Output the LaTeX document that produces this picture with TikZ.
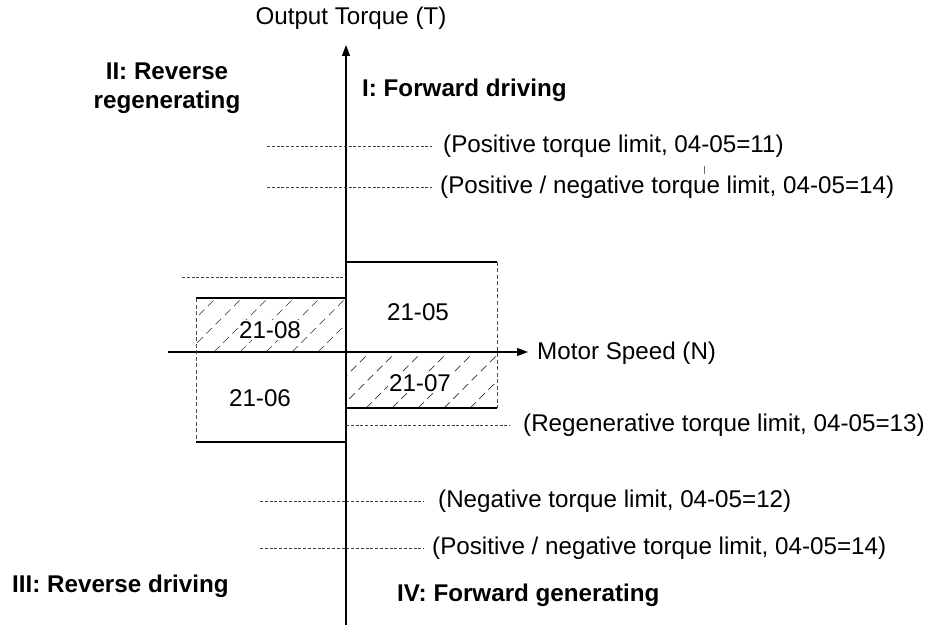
\documentclass[tikz,border=0pt]{standalone}
\usepackage{fontspec}
\setmainfont{Liberation Sans}
\usetikzlibrary{arrows.meta}
\begin{document}
\begin{tikzpicture}[x=1pt,y=-1pt,
  txt/.style={font=\fontsize{24.2}{28}\selectfont, inner sep=0pt},
  btxt/.style={font=\fontsize{24.2}{29}\selectfont\bfseries, inner sep=0pt},
  axis/.style={line width=1.1pt, -{Triangle[length=11pt,width=8pt]}},
  limit/.style={line width=0.8pt, dash pattern=on 3pt off 1.8pt, black!75},
  thickline/.style={line width=2.6pt},
  side/.style={line width=0.9pt, dash pattern=on 4pt off 2.5pt, black!70},
  hatch/.style={line width=0.7pt, dash pattern=on 8pt off 5pt, black!80}]
\useasboundingbox (0,0) rectangle (926,628);
% axes
\coordinate (vb) at (346,625);
\coordinate (vt) at (346,45);
\coordinate (hl) at (168,352);
\coordinate (hr) at (528,352);
% hatching
\begin{scope}
\clip (196,298) rectangle (346,352);
\foreach \i in {0,26,...,286} {\draw[hatch] (110+\i,352) -- ++(60,-60);}
\end{scope}
\begin{scope}
\clip (346,352) rectangle (497,408);
\foreach \i in {0,26,...,286} {\draw[hatch] (262+\i,408) -- ++(62,-62);}
\end{scope}
\draw[axis] (vb) -- (vt);
\draw[axis] (hl) -- (hr);
\node[txt, anchor=south] (ty) at (351,30) {Output Torque (T)};
\node[txt, anchor=west] (tx) at (537,353) {Motor Speed (N)};
% quadrant labels
\node[btxt, anchor=west] (q1) at (362,90) {I: Forward driving};
\node[btxt, align=center] (q2) at (167,88) {II: Reverse\\regenerating};
\node[btxt, anchor=west] (q3) at (12,586) {III: Reverse driving};
\node[btxt, anchor=west] (q4) at (397,595) {IV: Forward generating};
% limit lines
\coordinate (a1) at (267,146);
\node[txt, anchor=west] (t1) at (443,146) {(Positive torque limit, 04-05=11)};
\draw[limit] (a1) -- (432,146);
\coordinate (a2) at (267,187);
\node[txt, anchor=west] (t2) at (440,187) {(Positive / negative torque limit, 04-05=14)};
\draw[limit] (a2) -- (432,187);
\draw[black!60, line width=0.6pt] (704,166) -- (704,174);
\coordinate (a3) at (182,277);
\coordinate (b3) at (346,277);
\draw[limit] (a3) -- (b3);
\coordinate (a4) at (346,425);
\node[txt, anchor=west] (t4) at (523,425) {(Regenerative torque limit, 04-05=13)};
\draw[limit] (a4) -- (510,425);
\coordinate (a5) at (260,501);
\node[txt, anchor=west] (t5) at (438,501) {(Negative torque limit, 04-05=12)};
\draw[limit] (a5) -- (424,501);
\coordinate (a6) at (260,548);
\node[txt, anchor=west] (t6) at (432,548) {(Positive / negative torque limit, 04-05=14)};
\draw[limit] (a6) -- (424,548);
% boxes
\draw[side] (497,262) -- (497,408);
\draw[side] (196,298) -- (196,442);
\draw[thickline] (346,262) -- (497,262);
\draw[thickline] (196,298) -- (346,298);
\draw[thickline] (346,408) -- (497,408);
\draw[thickline] (196,442) -- (346,442);
\node[txt, fill=white, inner sep=1pt] (b8) at (270,330) {21-08};
\node[txt] (b5) at (418,312) {21-05};
\node[txt] (b6) at (260,398) {21-06};
\node[txt, fill=white, inner sep=1pt] (b7) at (420,383) {21-07};
\end{tikzpicture}
\end{document}
